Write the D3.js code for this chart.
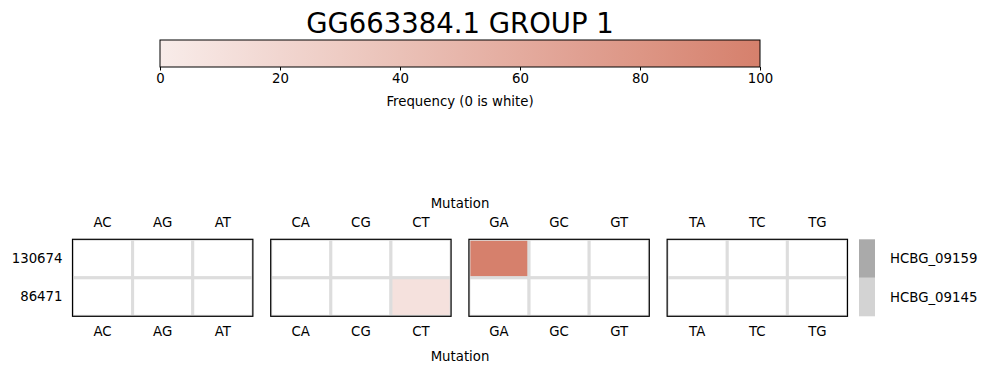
<!DOCTYPE html>
<html>
<head>
<meta charset="utf-8">
<script src="https://cdn.jsdelivr.net/npm/d3@7"></script>
<style>
  body { margin: 0; background: #fff; }
  text { font-family: "DejaVu Sans", sans-serif; fill: #000; }
</style>
</head>
<body>
<div id="chart"></div>
<script>
// data
var title = "GG663384.1 GROUP 1";
var groups = ["A", "C", "G", "T"];
var mutations = ["AC", "AG", "AT", "CA", "CG", "CT", "GA", "GC", "GT", "TA", "TC", "TG"];
var positions = ["130674", "86471"];
var samples = ["HCBG_09159", "HCBG_09145"];
var sampleColors = ["#aaaaaa", "#d3d3d3"];
var freq130674 = [0, 0, 0, 0, 0, 0, 100, 0, 0, 0, 0, 0];
var freq86471 = [0, 0, 0, 0, 0, 10, 0, 0, 0, 0, 0, 0];
var cbTicks = [0, 20, 40, 60, 80, 100];

var svgWidth = 990;
var svgHeight = 373;

var svg = d3.select("#chart")
.append("svg")
.attr("width", svgWidth)
.attr("height", svgHeight);

var color = d3.scaleLinear()
.domain([0, 100])
.range(["#f8ece9", "#d6806c"])
.interpolate(d3.interpolateRgb);

// title
svg.append("text")
.attr("x", 460)
.attr("y", 33)
.attr("text-anchor", "middle")
.attr("font-size", "27.5px")
.text(title);

// colorbar
var cbScale = d3.scaleLinear().domain([0, 100]).range([160, 760]);
var grad = svg.append("defs").append("linearGradient")
.attr("id", "cbgrad");
d3.range(0, 101, 10).forEach(function(v) {
    grad.append("stop")
    .attr("offset", v + "%")
    .attr("stop-color", color(v));
});
svg.append("rect")
.attr("x", cbScale(0))
.attr("y", 40)
.attr("width", cbScale(100) - cbScale(0))
.attr("height", 27)
.attr("fill", "url(#cbgrad)")
.attr("stroke", "#000")
.attr("stroke-width", 1);

var cbAxis = svg.append("g")
.attr("transform", "translate(0,67)")
.call(d3.axisBottom(cbScale).tickValues(cbTicks).tickSize(3.5).tickPadding(3.5));
cbAxis.select(".domain").remove();
cbAxis.selectAll("text").attr("font-size", "13.3px").attr("font-family", "DejaVu Sans");

svg.append("text")
.attr("x", 460)
.attr("y", 106)
.attr("text-anchor", "middle")
.attr("font-size", "13.3px")
.text("Frequency (0 is white)");

// heatmap panels
var yTop = 239.3, yBottom = 316.3;
var panelScale = d3.scaleBand()
.domain(groups)
.range([72.5, 847.5])
.paddingInner(0.09);

var yScale = d3.scaleBand()
.domain(positions)
.range([yTop, yBottom]);

var cells = [];
mutations.forEach(function(m, i) {
    cells.push({mut: m, pos: positions[0], value: freq130674[i]});
    cells.push({mut: m, pos: positions[1], value: freq86471[i]});
});

groups.forEach(function(g) {
    var muts = mutations.filter(function(m) { return m[0] === g; });
    var x0 = panelScale(g);
    var xScale = d3.scaleBand().domain(muts).range([x0, x0 + panelScale.bandwidth()]);

    svg.append("clipPath").attr("id", "clip" + g)
    .append("rect")
    .attr("x", x0).attr("y", yTop)
    .attr("width", panelScale.bandwidth()).attr("height", yBottom - yTop);

    var panel = svg.append("g").attr("clip-path", "url(#clip" + g + ")");
    panel.selectAll("rect")
    .data(cells.filter(function(d) { return d.mut[0] === g; }))
    .enter()
    .append("rect")
    .attr("x", function(d) { return xScale(d.mut); })
    .attr("y", function(d) { return yScale(d.pos); })
    .attr("width", xScale.bandwidth())
    .attr("height", yScale.bandwidth())
    .attr("fill", function(d) { return d.value === 0 ? "#ffffff" : color(d.value); })
    .attr("stroke", "#dddddd")
    .attr("stroke-width", 3);

    svg.append("rect")
    .attr("x", x0).attr("y", yTop)
    .attr("width", panelScale.bandwidth()).attr("height", yBottom - yTop)
    .attr("fill", "none")
    .attr("stroke", "#000")
    .attr("stroke-width", 1.2);

    var topAxis = svg.append("g")
    .attr("transform", "translate(0," + yTop + ")")
    .call(d3.axisTop(xScale).tickSize(0).tickPadding(12));
    var botAxis = svg.append("g")
    .attr("transform", "translate(0," + yBottom + ")")
    .call(d3.axisBottom(xScale).tickSize(0).tickPadding(10.5));
    [topAxis, botAxis].forEach(function(a) {
        a.select(".domain").remove();
        a.selectAll("text").attr("font-size", "13.3px").attr("font-family", "DejaVu Sans");
    });
});

// row labels
var leftAxis = svg.append("g")
.attr("transform", "translate(72.5,0)")
.call(d3.axisLeft(yScale).tickSize(0).tickPadding(10));
leftAxis.select(".domain").remove();
leftAxis.selectAll("text").attr("font-size", "13.3px").attr("font-family", "DejaVu Sans");

// axis titles
svg.append("text")
.attr("x", 460).attr("y", 208)
.attr("text-anchor", "middle")
.attr("font-size", "13.3px")
.text("Mutation");
svg.append("text")
.attr("x", 460).attr("y", 361)
.attr("text-anchor", "middle")
.attr("font-size", "13.3px")
.text("Mutation");

// sample colour bar
svg.selectAll(".sample")
.data(samples)
.enter()
.append("rect")
.attr("class", "sample")
.attr("x", 859)
.attr("y", function(d, i) { return yScale(positions[i]); })
.attr("width", 16)
.attr("height", yScale.bandwidth())
.attr("fill", function(d, i) { return sampleColors[i]; });

svg.selectAll(".sampleLabel")
.data(samples)
.enter()
.append("text")
.attr("class", "sampleLabel")
.attr("x", 890)
.attr("y", function(d, i) { return yScale(positions[i]) + yScale.bandwidth() / 2; })
.attr("dominant-baseline", "central")
.attr("font-size", "13.3px")
.text(function(d) { return d; });
</script>
</body>
</html>
